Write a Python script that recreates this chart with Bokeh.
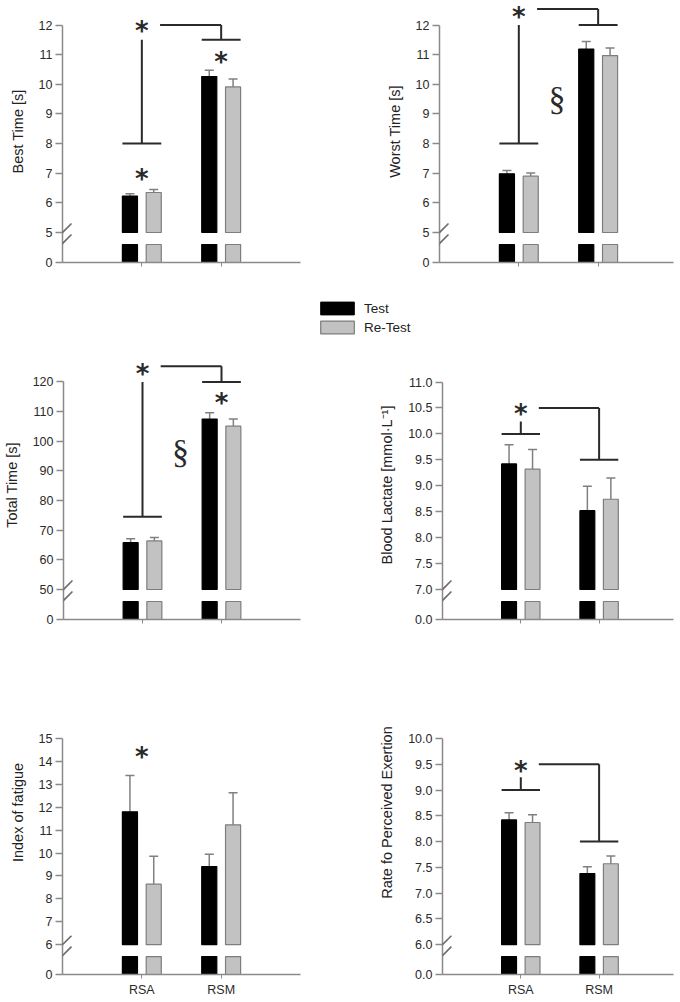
import numpy as np
from bokeh.plotting import figure
from bokeh.models import (Range1d, FixedTicker, Arrow, Legend, LegendItem,
                          ColumnDataSource, Whisker, TeeHead)
from bokeh.layouts import column, row
from bokeh.embed import file_html
from bokeh.resources import INLINE
from bokeh.core.properties import value

# ---------------- data ----------------
groups = ["RSA", "RSM"]
series_names = ["Test", "Re-Test"]

best_test = [6.23, 10.26]
best_test_sd = [0.08, 0.21]
best_retest = [6.35, 9.91]
best_retest_sd = [0.10, 0.27]

worst_test = [6.98, 11.19]
worst_test_sd = [0.11, 0.25]
worst_retest = [6.90, 10.97]
worst_retest_sd = [0.11, 0.25]

total_test = [65.8, 107.5]
total_test_sd = [1.3, 2.1]
total_retest = [66.4, 105.1]
total_retest_sd = [1.1, 2.4]

lactate_test = [9.42, 8.52]
lactate_test_sd = [0.37, 0.47]
lactate_retest = [9.32, 8.74]
lactate_retest_sd = [0.38, 0.41]

fatigue_test = [11.80, 9.41]
fatigue_test_sd = [1.58, 0.54]
fatigue_retest = [8.64, 11.23]
fatigue_retest_sd = [1.22, 1.40]

rpe_test = [8.42, 7.38]
rpe_test_sd = [0.14, 0.13]
rpe_retest = [8.37, 7.57]
rpe_retest_sd = [0.15, 0.15]

# y ticks of the upper (broken) section; first label is the one at the axis origin
best_ticks = [5, 6, 7, 8, 9, 10, 11, 12]
best_tick_labels = ["0", "5", "6", "7", "8", "9", "10", "11", "12"]
worst_ticks = [5, 6, 7, 8, 9, 10, 11, 12]
worst_tick_labels = ["0", "5", "6", "7", "8", "9", "10", "11", "12"]
total_ticks = [50, 60, 70, 80, 90, 100, 110, 120]
total_tick_labels = ["0", "50", "60", "70", "80", "90", "100", "110", "120"]
lactate_ticks = [7.0, 7.5, 8.0, 8.5, 9.0, 9.5, 10.0, 10.5, 11.0]
lactate_tick_labels = ["0.0", "7.0", "7.5", "8.0", "8.5", "9.0", "9.5", "10.0", "10.5", "11.0"]
fatigue_ticks = [6, 7, 8, 9, 10, 11, 12, 13, 14, 15]
fatigue_tick_labels = ["0", "6", "7", "8", "9", "10", "11", "12", "13", "14", "15"]
rpe_ticks = [6.0, 6.5, 7.0, 7.5, 8.0, 8.5, 9.0, 9.5, 10.0]
rpe_tick_labels = ["0.0", "6.0", "6.5", "7.0", "7.5", "8.0", "8.5", "9.0", "9.5", "10.0"]

# significance brackets:
# [RSA bracket level, RSA stem top, connector level, RSM bracket level, asterisk level]
best_bracket = [8.0, 11.5, 12.0, 11.5, 12.0]
worst_bracket = [8.0, 12.0, 12.54, 12.0, 12.48]
total_bracket = [74.5, 120.0, 125.3, 120.0, 124.8]
lactate_bracket = [10.0, 10.24, 10.5, 9.5, 10.49]
rpe_bracket = [9.0, 9.25, 9.5, 8.0, 9.49]

# extra asterisks (group, y) and section signs (y, between groups)
best_star_groups = ["RSA", "RSM"]
best_star_y = [7.0, 10.95]
total_star_groups = ["RSM"]
total_star_y = [114.9]
fatigue_star_groups = ["RSA"]
fatigue_star_y = [14.45]
worst_section_y = [9.51]
total_section_y = [96.4]

# ---------------- style / layout constants ----------------
UPPER_PX = 207.5     # px from break tick to top tick
ZERO_PX = 30.0       # px from axis origin to break tick
STUB_PX = 12.0       # gap between stub top and break tick
BAR_W = 0.19
BAR_OFF = 0.15
AXIS_GREY = "#8a8a8a"
ANN = "#2a2a2a"
FONT = "Liberation Sans"
STAR_DY = -9

xpos = np.arange(1, len(groups) + 1).astype(float)
gidx = {g: float(i + 1) for i, g in enumerate(groups)}


def stars(p, xs, ys):
    p.text(x=list(xs), y=list(ys), text=["*"] * len(xs),
           text_font=value("DejaVu Sans"), text_font_style="bold",
           text_font_size="26px", text_align="center", text_baseline="top",
           y_offset=STAR_DY, text_color=ANN)


def panel(fig_w, fig_h, b_left, b_right, b_top, b_bottom, x_end, y_label,
          ticks, tick_labels, test, test_sd, retest, retest_sd, show_x_labels,
          bracket=None, star_groups=(), star_y=(), section_y=()):
    frame_w = fig_w - b_left - b_right
    frame_h = fig_h - b_top - b_bottom
    brk, top = ticks[0], ticks[-1]
    ppu = UPPER_PX / (top - brk)
    y0 = round(brk - ZERO_PX / ppu, 4)
    y1 = y0 + frame_h / ppu
    stub_top = brk - STUB_PX / ppu
    xppu = frame_w / x_end

    p = figure(width=fig_w, height=fig_h, x_range=Range1d(0, x_end),
               y_range=Range1d(y0, y1), toolbar_location=None,
               output_backend="svg", min_border_left=b_left,
               min_border_right=b_right, min_border_top=b_top,
               min_border_bottom=b_bottom)
    p.outline_line_color = None
    p.xgrid.visible = False
    p.ygrid.visible = False
    p.background_fill_color = "white"
    p.border_fill_color = "white"

    specs = [(test, test_sd, -BAR_OFF, "black", "black"),
             (retest, retest_sd, BAR_OFF, "#c2c2c2", "#7d7d7d")]
    for vals, sds, off, fill, line in specs:
        src = ColumnDataSource(dict(x=xpos + off, top=vals,
                                    hi=np.array(vals) + np.array(sds)))
        p.vbar(x="x", top="top", bottom=brk, width=BAR_W, source=src,
               fill_color=fill, line_color=line, line_width=1.2)
        p.vbar(x="x", top=stub_top, bottom=y0, width=BAR_W, source=src,
               fill_color=fill, line_color=line, line_width=1.2)
        p.add_layout(Whisker(source=src, base="x", upper="hi", lower="top",
                             dimension="height", line_color="#808080",
                             line_width=1.5, lower_head=None,
                             upper_head=TeeHead(size=9, line_color="#808080",
                                                line_width=1.5)))

    half = BAR_OFF + BAR_W / 2
    if bracket is not None:
        lv_a, stem_a, conn, lv_b, star_lv = bracket
        ga, gb = xpos[0], xpos[1]
        p.segment(x0=[ga - half, ga, ga + 0.23, gb, gb - half],
                  y0=[lv_a, lv_a, conn, conn, lv_b],
                  x1=[ga + half, ga, gb, gb, gb + half],
                  y1=[lv_a, stem_a, conn, lv_b, lv_b],
                  line_color=ANN, line_width=2)
        stars(p, [ga], [star_lv])
    if len(star_groups):
        stars(p, [gidx[g] for g in star_groups], star_y)
    if len(section_y):
        p.text(x=[(xpos[0] + xpos[1]) / 2 - 0.02] * len(section_y),
               y=list(section_y), text=["\u00a7"] * len(section_y),
               text_font=value("Liberation Serif"), text_font_size="34px",
               text_align="center", text_baseline="middle", text_color=ANN)

    # axis break marks and x-axis stub left of the y axis
    dx_l, dx_r = 8 / xppu, 9 / xppu
    for lo, hi in [(22, 39), (11, 28)]:
        p.add_layout(Arrow(end=None, x_start=-dx_l, y_start=y0 + lo / ppu,
                           x_end=dx_r, y_end=y0 + hi / ppu,
                           line_color="#6a6a6a", line_width=1.6))
    p.add_layout(Arrow(end=None, x_start=-7 / xppu, y_start=y0, x_end=0,
                       y_end=y0, line_color=AXIS_GREY, line_width=1.5))

    ya = p.yaxis[0]
    ya.ticker = FixedTicker(ticks=[y0] + list(ticks))
    ov = {y0: tick_labels[0]}
    for t, l in zip(ticks, tick_labels[1:]):
        ov[t] = l
    ya.major_label_overrides = ov
    ya.bounds = (y0, top)
    ya.axis_label = y_label
    ya.axis_label_text_font = FONT
    ya.axis_label_text_font_size = "14.5px"
    ya.axis_label_text_font_style = "normal"
    ya.axis_label_text_color = "#222222"
    ya.axis_label_standoff = 10
    ya.major_label_standoff = 3
    ya.major_label_text_font = FONT
    ya.major_label_text_font_size = "12.5px"
    ya.major_label_text_color = "#2a2a2a"
    ya.axis_line_color = AXIS_GREY
    ya.axis_line_width = 1.5
    ya.major_tick_line_color = AXIS_GREY
    ya.major_tick_line_width = 1.5
    ya.major_tick_out = 7
    ya.major_tick_in = 0
    ya.minor_tick_line_color = None

    xa = p.xaxis[0]
    xa.ticker = FixedTicker(ticks=[float(v) for v in xpos])
    xa.major_label_overrides = {float(v): (g if show_x_labels else "")
                                for v, g in zip(xpos, groups)}
    xa.major_label_text_font = FONT
    xa.major_label_text_font_size = "12.5px"
    xa.major_label_text_color = "#2a2a2a"
    xa.major_label_standoff = 4
    xa.axis_line_color = AXIS_GREY
    xa.axis_line_width = 1.5
    xa.major_tick_line_color = AXIS_GREY
    xa.major_tick_out = 4
    xa.major_tick_in = 0
    xa.minor_tick_line_color = None
    return p


LW, RW = 376, 304
LBL, LBR = 62, 76
RBL, RBR = 63, 7
LX, RX = 3.0, 2.95

p1 = panel(LW, 290, LBL, LBR, 0, 28, LX, "Best Time [s]", best_ticks,
           best_tick_labels, best_test, best_test_sd, best_retest,
           best_retest_sd, False, best_bracket, best_star_groups, best_star_y)
p2 = panel(RW, 290, RBL, RBR, 0, 28, RX, "Worst Time [s]", worst_ticks,
           worst_tick_labels, worst_test, worst_test_sd, worst_retest,
           worst_retest_sd, False, worst_bracket, section_y=worst_section_y)
p3 = panel(LW, 302, LBL, LBR, 5, 28, LX, "Total Time [s]", total_ticks,
           total_tick_labels, total_test, total_test_sd, total_retest,
           total_retest_sd, False, total_bracket, total_star_groups,
           total_star_y, total_section_y)
p4 = panel(RW, 302, RBL, RBR, 5, 28, RX, "Blood Lactate [mmol\u00b7L\u207b\u00b9]",
           lactate_ticks, lactate_tick_labels, lactate_test, lactate_test_sd,
           lactate_retest, lactate_retest_sd, False, lactate_bracket)
p5 = panel(LW, 352, LBL, LBR, 3, 23, LX, "Index of fatigue", fatigue_ticks,
           fatigue_tick_labels, fatigue_test, fatigue_test_sd, fatigue_retest,
           fatigue_retest_sd, True, None, fatigue_star_groups, fatigue_star_y)
p6 = panel(RW, 352, RBL, RBR, 3, 23, RX, "Rate fo Perceived Exertion",
           rpe_ticks, rpe_tick_labels, rpe_test, rpe_test_sd, rpe_retest,
           rpe_retest_sd, True, rpe_bracket)

# legend strip (its bars lie below the strip's visible range; only the key shows)
lf = figure(width=LW + RW, height=55, x_range=Range1d(0, 3), y_range=Range1d(50, 51),
            toolbar_location=None, output_backend="svg", min_border=0)
lf.axis.visible = False
lf.grid.visible = False
lf.outline_line_color = None
r_test = lf.vbar(x=xpos - BAR_OFF, top=best_test, width=BAR_W,
                 fill_color="black", line_color="black")
r_retest = lf.vbar(x=xpos + BAR_OFF, top=best_retest, width=BAR_W,
                   fill_color="#c2c2c2", line_color="#7d7d7d", line_width=1.2)
legend = Legend(items=[LegendItem(label=series_names[0], renderers=[r_test]),
                       LegendItem(label=series_names[1], renderers=[r_retest])],
                location=(316, 10), orientation="vertical", padding=0,
                spacing=3, glyph_width=42, glyph_height=16, label_height=16,
                label_standoff=6, border_line_color=None,
                background_fill_alpha=0, label_text_font=FONT,
                label_text_font_size="13.5px", label_text_color="#222222")
lf.add_layout(legend)

layout = column(row(p1, p2), lf, row(p3, p4), row(p5, p6))
open("out.html", "w").write(file_html(layout, INLINE))
